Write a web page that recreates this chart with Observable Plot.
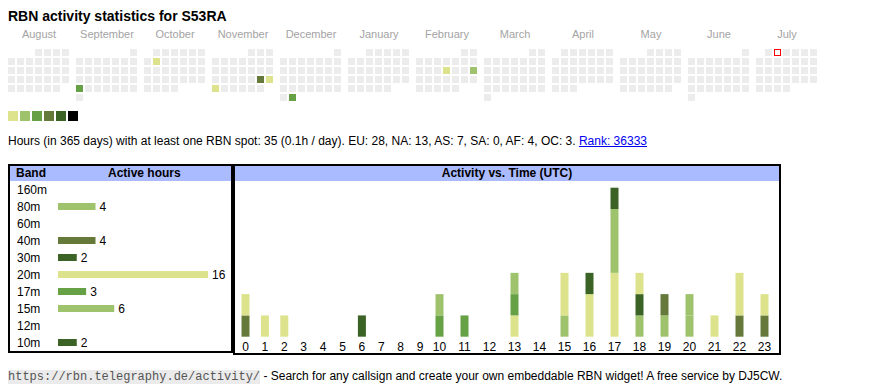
<!DOCTYPE html>
<html><head><meta charset="utf-8">
<script src="https://cdn.jsdelivr.net/npm/d3@7"></script>
<script src="https://cdn.jsdelivr.net/npm/@observablehq/plot@0.6"></script>
<style>
body{margin:0;background:#fff;font-family:"Liberation Sans",Arial,sans-serif;color:#000;}
#page{position:relative;width:870px;height:390px;overflow:hidden;}
.abs{position:absolute;}
#title{left:8px;top:8px;font-weight:bold;font-size:14px;line-height:16px;white-space:nowrap;}
#summary{left:8px;top:134px;font-size:12px;line-height:14px;white-space:nowrap;}
#summary a{color:#0000ee;text-decoration:underline;}
.box{box-sizing:border-box;border:2px solid #000;}
.head{background:#aabbff;font-weight:bold;font-size:12px;line-height:15px;height:15px;white-space:nowrap;}
#footer{left:8px;top:368.5px;font-size:12px;line-height:14px;white-space:nowrap;}
#footer code{font-family:"Liberation Mono","Courier New",monospace;font-size:12px;background:#ebebeb;color:#555;}
svg{background:transparent;overflow:visible;}
</style></head>
<body><div id="page">
<div id="title" class="abs"></div>
<div id="cal" class="abs" style="left:0;top:0"></div>
<div id="legend" class="abs" style="left:0;top:111px"></div>
<div id="summary" class="abs"></div>
<div class="abs box" style="left:8px;top:164px;width:225px;height:189px"></div>
<div class="abs head" style="left:10px;top:166px;width:221px"><span style="position:absolute;left:6px">Band</span><span style="position:absolute;left:98px">Active hours</span></div>
<div id="bandchart" class="abs" style="left:0;top:180px"></div>
<div class="abs box" style="left:233px;top:164px;width:548px;height:191px"></div>
<div id="timehead" class="abs head" style="left:235px;top:166px;width:544px;text-align:center"></div>
<div id="hourchart" class="abs" style="left:235px;top:181px"></div>
<div id="footer" class="abs"><code>https://rbn.telegraphy.de/activity/</code> - Search for any callsign and create your own embeddable RBN widget! A free service by DJ5CW.</div>
</div>
<script>
// ---------- data ----------
const callsign = "S53RA";
const monthKeys = ["2024-08","2024-09","2024-10","2024-11","2024-12","2025-01","2025-02","2025-03","2025-04","2025-05","2025-06","2025-07"];
const monthNames = ["August","September","October","November","December","January","February","March","April","May","June","July"];
const activeDates = ["2024-09-23","2024-10-08","2024-11-23","2024-11-24","2024-11-25","2024-12-31","2025-02-13","2025-02-16"];
const activeLevels = [3,1,4,1,1,3,1,2];
const todayDate = "2025-07-02";
const legendLevels = [1,2,3,4,5,6];

const totalHours = 35;
const perDay = "0.1h / day";
const continents = ["EU","NA","AS","SA","AF","OC"];
const continentHours = [28,13,7,0,4,3];
const rank = 36333;

const bands = ["160m","80m","60m","40m","30m","20m","17m","15m","12m","10m"];
const bandHours = [0,4,0,4,2,16,3,6,0,2];

const hours = d3.range(24);
const spotHour  = [0,0,1,2,6,10,10,11,13,13,13,15,15,16,16,17,17,17,18,18,18,19,19,20,20,21,22,22,23,23];
const spotBand  = ["40m","20m","20m","20m","30m","17m","15m","17m","20m","17m","15m","80m","20m","20m","10m","20m","15m","10m","80m","30m","20m","80m","40m","80m","15m","20m","40m","20m","40m","20m"];
const spotCount = [1,1,1,1,1,1,1,1,1,1,1,1,2,2,1,3,3,1,1,1,1,1,1,1,1,1,1,2,1,1];

// ---------- styles ----------
const levelColors = ["#ececec","#dce38c","#9fc36c","#67a146","#657a3a","#3b6326","#000000"];
const bandColors  = ["#dce38c","#9fc36c","#dce38c","#657a3a","#3b6326","#dce38c","#67a146","#9fc36c","#9fc36c","#3b6326"];
const font = "Liberation Sans, Arial, sans-serif";

// ---------- text ----------
document.getElementById("title").textContent = "RBN activity statistics for " + callsign;
document.getElementById("summary").innerHTML =
  `Hours (in 365 days) with at least one RBN spot: ${totalHours} (${perDay}). ` +
  continents.map((c, i) => `${c}: ${continentHours[i]}`).join(", ") +
  `. <a href="#">Rank: ${rank}</a>`;
document.getElementById("timehead").textContent = "Activity vs. Time (UTC)";

// ---------- calendar ----------
const fmt = d3.utcFormat("%Y-%m-%d");
const days = [];
monthKeys.forEach(key => {
  const start = new Date(key + "-01T00:00:00Z");
  const offset = (start.getUTCDay() + 6) % 7;
  for (const d of d3.utcDay.range(start, d3.utcMonth.offset(start, 1))) {
    const iso = fmt(d);
    const k = activeDates.indexOf(iso);
    days.push({month: key, dow: (d.getUTCDay() + 6) % 7, week: Math.floor((d.getUTCDate() - 1 + offset) / 7),
               level: k >= 0 ? activeLevels[k] : 0, iso});
  }
});

const cal = Plot.plot({
  width: 870, height: 105,
  marginTop: 48, marginBottom: 3, marginLeft: 7, marginRight: 52,
  facet: {marginTop: 0, marginBottom: 0, marginLeft: 0, marginRight: 0},
  fx: {domain: monthKeys, paddingInner: 5/68, paddingOuter: 0, axis: "top", tickSize: 0, tickPadding: 11,
       tickFormat: k => monthNames[monthKeys.indexOf(k)], label: null},
  x: {domain: d3.range(7), paddingInner: 2/9, paddingOuter: 1/9, axis: null},
  y: {domain: d3.range(6), paddingInner: 2/9, paddingOuter: 1/9, axis: null},
  color: {type: "ordinal", domain: d3.range(7), range: levelColors},
  style: {fontFamily: font, fontSize: "11px", color: "#a3a3a3", background: "transparent"},
  marks: [
    Plot.cell(days, {fx: "month", x: "dow", y: "week", fill: "level", inset: 0}),
    Plot.cell(days, {filter: d => d.iso === todayDate, fx: "month", x: "dow", y: "week", fill: "white", stroke: "red", strokeWidth: 1, inset: 0.5})
  ]
});
document.getElementById("cal").append(cal);

const legend = Plot.plot({
  width: 90, height: 10, marginTop: 0, marginBottom: 0, marginLeft: 7, marginRight: 11,
  x: {domain: legendLevels, paddingInner: 2/12, paddingOuter: 1/12, axis: null},
  color: {type: "ordinal", domain: d3.range(7), range: levelColors},
  style: {background: "transparent"},
  marks: [Plot.cell(legendLevels, {x: d => d, fill: d => d, inset: 0})]
});
document.getElementById("legend").append(legend);

// ---------- band chart ----------
const bandData = bands.map((b, i) => ({band: b, hours: bandHours[i]}));
const bandChart = Plot.plot({
  width: 232, height: 171,
  marginTop: 0.5, marginBottom: 0.5, marginLeft: 58, marginRight: 24,
  x: {domain: [0, 16], axis: null},
  y: {domain: bands, paddingInner: 10/17, paddingOuter: 5/17, axis: null},
  color: {domain: bands, range: bandColors},
  style: {fontFamily: font, fontSize: "12px", color: "#000", background: "transparent"},
  marks: [
    Plot.barX(bandData.filter(d => d.hours > 0), {x: "hours", y: "band", fill: "band"}),
    Plot.text(bandData, {y: "band", text: "band", frameAnchor: "left", textAnchor: "start", dx: -41.5, fill: "#000"}),
    Plot.text(bandData.filter(d => d.hours > 0), {x: "hours", y: "band", text: d => String(d.hours), textAnchor: "start", dx: 3.5, fill: "#000"})
  ]
});
document.getElementById("bandchart").append(bandChart);

// ---------- hour chart ----------
const spots = spotHour.map((h, i) => ({hour: h, band: spotBand[i], count: spotCount[i]}));
const hourChart = Plot.plot({
  width: 544, height: 172,
  marginTop: 6.7, marginBottom: 16.3, marginLeft: 0, marginRight: 0,
  x: {type: "linear", domain: [0, 10, 23], range: [10, 204, 529]},
  y: {domain: [0, 7], axis: null},
  color: {domain: bands, range: bandColors},
  style: {fontFamily: font, fontSize: "12px", color: "#000", background: "transparent"},
  marks: [
    Plot.ruleX(spots, Plot.stackY({x: "hour", y: "count", z: "band", order: bands, stroke: "band", strokeWidth: 8})),
    Plot.axisX({ticks: hours, tickSize: 0, tickPadding: 5, tickFormat: d => String(d), label: null})
  ]
});
document.getElementById("hourchart").append(hourChart);
</script>
</body></html>
